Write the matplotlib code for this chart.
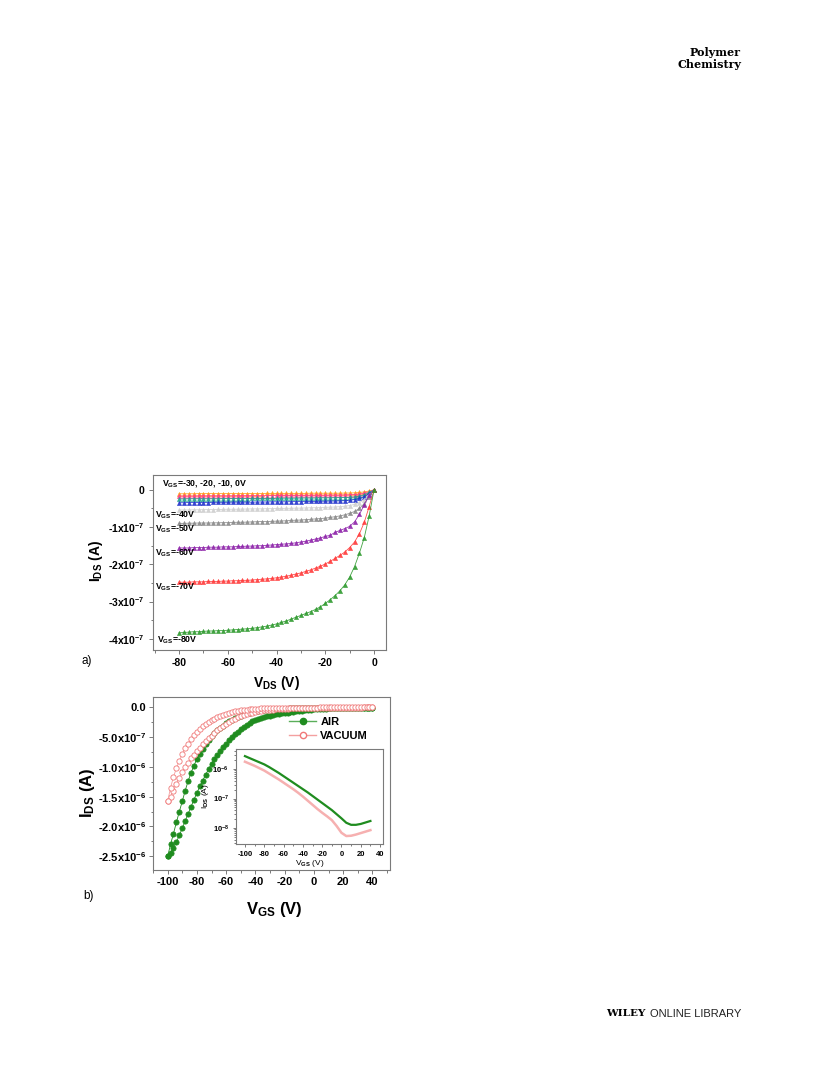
import numpy as np
import matplotlib
matplotlib.use('Agg')
import matplotlib.pyplot as plt
from matplotlib.ticker import MultipleLocator, FixedLocator, LogLocator, NullFormatter

plt.rcParams['font.family'] = ['Liberation Sans', 'DejaVu Sans']
plt.rcParams['mathtext.fontset'] = 'custom'
plt.rcParams['mathtext.rm'] = 'Liberation Sans'
plt.rcParams['mathtext.bf'] = 'Liberation Sans:bold'
plt.rcParams['mathtext.it'] = 'Liberation Sans:italic'
plt.rcParams['axes.unicode_minus'] = False

# ---------------- Panel a data (I_DS in units of 1e-7 A) ----------------
vds = np.arange(0, -81, -2)
i_80 = [0, -0.70, -1.28, -1.70, -2.06, -2.34, -2.55, -2.71, -2.84, -2.95, -3.05, -3.14, -3.21, -3.27, -3.32, -3.37,
        -3.42, -3.47, -3.52, -3.56, -3.60, -3.63, -3.66, -3.68, -3.70, -3.72, -3.73, -3.74, -3.75, -3.76, -3.77,
        -3.78, -3.78, -3.79, -3.79, -3.80, -3.81, -3.81, -3.82, -3.83, -3.84]
i_70 = [0, -0.45, -0.87, -1.18, -1.40, -1.55, -1.67, -1.76, -1.84, -1.92, -1.99, -2.05, -2.10, -2.15, -2.19, -2.23,
        -2.26, -2.29, -2.32, -2.34, -2.36, -2.38, -2.39, -2.40, -2.41, -2.42, -2.43, -2.43, -2.44, -2.44, -2.45,
        -2.45, -2.46, -2.46, -2.46, -2.47, -2.47, -2.47, -2.48, -2.48, -2.48]
i_60 = [0, -0.15, -0.40, -0.66, -0.86, -0.98, -1.04, -1.09, -1.14, -1.22, -1.25, -1.29, -1.32, -1.35, -1.38, -1.40,
        -1.42, -1.44, -1.45, -1.46, -1.47, -1.48, -1.49, -1.50, -1.50, -1.51, -1.51, -1.52, -1.52, -1.53, -1.53,
        -1.53, -1.54, -1.54, -1.54, -1.55, -1.55, -1.55, -1.56, -1.56, -1.56]
i_50 = [0, -0.18, -0.37, -0.50, -0.58, -0.63, -0.67, -0.70, -0.72, -0.74, -0.76, -0.77, -0.78, -0.79, -0.80, -0.81,
        -0.815, -0.82, -0.83, -0.835, -0.84, -0.845, -0.85, -0.85, -0.855, -0.86, -0.865, -0.87, -0.87, -0.875, -0.88,
        -0.88, -0.885, -0.885, -0.89, -0.89, -0.89, -0.895, -0.895, -0.90, -0.90]
i_40 = [0, -0.14, -0.26, -0.34, -0.39, -0.42, -0.44, -0.45, -0.46, -0.465, -0.47, -0.475, -0.48, -0.48, -0.485, -0.49,
        -0.49, -0.495, -0.495, -0.50, -0.50, -0.505, -0.505, -0.51, -0.51, -0.51, -0.515, -0.515, -0.52, -0.52, -0.52,
        -0.525, -0.525, -0.53, -0.53, -0.53, -0.535, -0.535, -0.54, -0.54, -0.54]
i_30 = [0, -0.10, -0.18, -0.23, -0.26, -0.28, -0.29, -0.295, -0.30, -0.30, -0.305, -0.305, -0.31, -0.31, -0.31, -0.315,
        -0.315, -0.315, -0.32, -0.32, -0.32, -0.32, -0.325, -0.325, -0.325, -0.33, -0.33, -0.33, -0.33, -0.33, -0.335,
        -0.335, -0.335, -0.335, -0.34, -0.34, -0.34, -0.34, -0.34, -0.345, -0.345]
i_20 = [0, -0.07, -0.13, -0.17, -0.19, -0.20, -0.205, -0.21, -0.21, -0.215, -0.215, -0.215, -0.22, -0.22, -0.22, -0.22,
        -0.225, -0.225, -0.225, -0.225, -0.23, -0.23, -0.23, -0.23, -0.23, -0.23, -0.235, -0.235, -0.235, -0.235, -0.235,
        -0.235, -0.24, -0.24, -0.24, -0.24, -0.24, -0.24, -0.24, -0.245, -0.245]
i_10 = [0, -0.05, -0.09, -0.11, -0.125, -0.13, -0.135, -0.14, -0.14, -0.14, -0.145, -0.145, -0.145, -0.145, -0.15, -0.15,
        -0.15, -0.15, -0.15, -0.15, -0.15, -0.155, -0.155, -0.155, -0.155, -0.155, -0.155, -0.155, -0.155, -0.16, -0.16,
        -0.16, -0.16, -0.16, -0.16, -0.16, -0.16, -0.165, -0.165, -0.165, -0.165]
i_0 = [0, -0.03, -0.055, -0.07, -0.08, -0.085, -0.085, -0.09, -0.09, -0.09, -0.09, -0.09, -0.09, -0.09, -0.095, -0.095,
       -0.095, -0.095, -0.095, -0.095, -0.095, -0.095, -0.095, -0.10, -0.10, -0.10, -0.10, -0.10, -0.10, -0.10, -0.10,
       -0.10, -0.10, -0.10, -0.10, -0.10, -0.10, -0.105, -0.105, -0.105, -0.105]
curves_a = [i_0, i_10, i_20, i_30, i_40, i_50, i_60, i_70, i_80]
colors_a = ['#ff9a1a', '#ff3c8c', '#1fa08c', '#2233cc', '#cfcfcf', '#8a8a8a', '#8e24aa', '#ff3b3b', '#2e9a2e']
yticks_a = [0, -1, -2, -3, -4]
yticklabels_a = ['0', '-1x10$^{\\mathbf{-7}}$', '-2x10$^{\\mathbf{-7}}$', '-3x10$^{\\mathbf{-7}}$', '-4x10$^{\\mathbf{-7}}$']
xticks_a = [-80, -60, -40, -20, 0]
labels_a = [r'V$_{\mathbf{GS}}$=-30, -20, -10, 0V', r'V$_{\mathbf{GS}}$=-40V', r'V$_{\mathbf{GS}}$=-50V',
            r'V$_{\mathbf{GS}}$=-60V', r'V$_{\mathbf{GS}}$=-70V', r'V$_{\mathbf{GS}}$=-80V']
label_pos_a = [(-87, 0.17), (-89.8, -0.67), (-89.8, -1.07), (-89.8, -1.70), (-89.8, -2.62), (-89.0, -4.03)]

# ---------------- Panel b data (I_DS in units of 1e-6 A) ----------------
vgs = np.arange(-100, 41, 2)
air_fwd = [-2.50, -2.44, -2.36, -2.26, -2.15, -2.03, -1.91, -1.79, -1.67, -1.55,
           -1.44, -1.33, -1.23, -1.13, -1.04, -0.95, -0.87, -0.80, -0.73, -0.67,
           -0.61, -0.555, -0.50, -0.455, -0.41, -0.37, -0.33, -0.295, -0.265, -0.24,
           -0.215, -0.195, -0.178, -0.163, -0.15, -0.14, -0.13, -0.12, -0.112, -0.105,
           -0.098, -0.09, -0.082, -0.075, -0.068, -0.062, -0.056, -0.05, -0.045, -0.041,
           -0.037, -0.033, -0.03, -0.027, -0.024, -0.022, -0.02, -0.018, -0.017, -0.016,
           -0.015, -0.014, -0.013, -0.012, -0.012, -0.011, -0.011, -0.010, -0.010, -0.010, -0.010]
air_rev = [-2.50, -2.30, -2.12, -1.93, -1.75, -1.58, -1.40, -1.24, -1.10, -0.98,
           -0.87, -0.78, -0.70, -0.62, -0.55, -0.49, -0.44, -0.39, -0.35, -0.31,
           -0.27, -0.24, -0.21, -0.18, -0.16, -0.14, -0.12, -0.10, -0.09, -0.08,
           -0.07, -0.062, -0.055, -0.05, -0.045, -0.04, -0.037, -0.034, -0.031, -0.028,
           -0.026, -0.024, -0.022, -0.02, -0.019, -0.018, -0.017, -0.016, -0.015, -0.014,
           -0.013, -0.012, -0.012, -0.011, -0.011, -0.010, -0.010, -0.010, -0.009, -0.009,
           -0.009, -0.009, -0.008, -0.008, -0.008, -0.008, -0.008, -0.008, -0.008, -0.008, -0.008]
vac_fwd = [-1.58, -1.50, -1.40, -1.29, -1.18, -1.08, -1.00, -0.93, -0.86, -0.80,
           -0.74, -0.68, -0.62, -0.57, -0.52, -0.48, -0.43, -0.39, -0.35, -0.31,
           -0.28, -0.25, -0.22, -0.19, -0.17, -0.15, -0.13, -0.115, -0.10, -0.09,
           -0.08, -0.07, -0.062, -0.055, -0.05, -0.045, -0.04, -0.036, -0.032, -0.029,
           -0.026, -0.023, -0.021, -0.019, -0.017, -0.016, -0.015, -0.014, -0.013, -0.012,
           -0.011, -0.010, -0.010, -0.009, -0.009, -0.008, -0.008, -0.008, -0.007, -0.007,
           -0.007, -0.007, -0.006, -0.006, -0.006, -0.006, -0.006, -0.005, -0.005, -0.005, -0.005]
vac_rev = [-1.58, -1.35, -1.17, -1.02, -0.90, -0.79, -0.69, -0.61, -0.53, -0.47,
           -0.41, -0.36, -0.32, -0.28, -0.245, -0.215, -0.19, -0.165, -0.145, -0.125,
           -0.11, -0.095, -0.082, -0.07, -0.06, -0.052, -0.045, -0.04, -0.035, -0.03,
           -0.027, -0.024, -0.021, -0.019, -0.017, -0.015, -0.014, -0.013, -0.012, -0.011,
           -0.010, -0.009, -0.009, -0.008, -0.008, -0.007, -0.007, -0.007, -0.006, -0.006,
           -0.006, -0.006, -0.005, -0.005, -0.005, -0.005, -0.005, -0.005, -0.005, -0.005,
           -0.005, -0.005, -0.005, -0.005, -0.005, -0.005, -0.005, -0.005, -0.005, -0.005, -0.005]
yticks_b = [0, -0.5, -1.0, -1.5, -2.0, -2.5]
yticklabels_b = ['0.0', '-5.0x10$^{\\mathbf{-7}}$', '-1.0x10$^{\\mathbf{-6}}$',
                 '-1.5x10$^{\\mathbf{-6}}$', '-2.0x10$^{\\mathbf{-6}}$', '-2.5x10$^{\\mathbf{-6}}$']
xticks_b = [-100, -80, -60, -40, -20, 0, 20, 40]

# ---------------- Inset data (log10 of |I_DS| in A) ----------------
vgs_in = np.arange(-100, 31, 5)
log_air = [-5.56, -5.63, -5.70, -5.77, -5.84, -5.93, -6.03, -6.13, -6.24, -6.35, -6.46, -6.57, -6.68, -6.79,
           -6.91, -7.03, -7.15, -7.27, -7.39, -7.53, -7.67, -7.82, -7.89, -7.89, -7.86, -7.81, -7.76]
log_vac = [-5.75, -5.82, -5.89, -5.97, -6.05, -6.15, -6.25, -6.35, -6.46, -6.57, -6.68, -6.80, -6.93, -7.07,
           -7.21, -7.35, -7.48, -7.60, -7.73, -7.93, -8.16, -8.27, -8.26, -8.22, -8.17, -8.12, -8.07]
xticks_in = [-100, -80, -60, -40, -20, 0, 20, 40]

GREEN = '#1f8c1f'
PINK = '#f07878'
SPINE = '#7a7a7a'


def style_axes(ax, size, pad=3.0):
    for s in ax.spines.values():
        s.set_color(SPINE)
        s.set_linewidth(0.8)
    ax.tick_params(which='both', direction='out', color=SPINE, labelsize=size, width=0.7, pad=pad)
    ax.tick_params(which='major', length=3)
    ax.tick_params(which='minor', length=1.8)
    for t in ax.get_xticklabels() + ax.get_yticklabels():
        t.set_fontweight('bold')


fig = plt.figure(figsize=(8.16, 10.79), dpi=100)

# ---------------- Panel a ----------------
axa = fig.add_axes([0.1875, 0.3976, 0.2855, 0.1622])
for vals, col in zip(curves_a, colors_a):
    axa.plot(vds, vals, color=col, lw=0.6, marker='^', ms=3.0, mfc=col, mec=col, mew=0.4, alpha=0.9)
axa.set_xlim(-90.7, 4.9)
axa.set_ylim(-4.3, 0.4)
axa.set_yticks(yticks_a)
axa.set_yticklabels(yticklabels_a)
axa.yaxis.set_minor_locator(MultipleLocator(0.5))
axa.set_xticks(xticks_a)
axa.xaxis.set_minor_locator(MultipleLocator(10))
style_axes(axa, 7.5)
axa.set_xlabel(r'V$_{\mathbf{DS}}$ (V)', fontsize=10, fontweight='bold')
axa.xaxis.set_label_coords(0.53, -0.14)
axa.set_ylabel(r'I$_{\mathbf{DS}}$ (A)', fontsize=10, fontweight='bold')
axa.yaxis.set_label_coords(-0.205, 0.51)
for txt, (x, y) in zip(labels_a, label_pos_a):
    axa.text(x, y, txt, fontsize=6.3, fontweight='bold', ha='left', va='center')
fig.text(82 / 816, 1 - 661 / 1079, 'a)', fontsize=8.5, ha='left', va='center')

# ---------------- Panel b ----------------
axb = fig.add_axes([0.1875, 0.1937, 0.2904, 0.1603])
axb.plot(vgs, air_fwd, color=GREEN, lw=0.6, marker='o', ms=3.8, mfc=GREEN, mec=GREEN, mew=0.5)
axb.plot(vgs, air_rev, color=GREEN, lw=0.6, marker='o', ms=3.8, mfc=GREEN, mec=GREEN, mew=0.5)
axb.plot(vgs, vac_fwd, color='#f4a0a0', lw=0.6, marker='o', ms=3.8, mfc='white', mec=PINK, mew=0.6)
axb.plot(vgs, vac_rev, color='#f4a0a0', lw=0.6, marker='o', ms=3.8, mfc='white', mec=PINK, mew=0.6)
axb.set_xlim(-110, 52)
axb.set_ylim(-2.73, 0.17)
axb.set_yticks(yticks_b)
axb.set_yticklabels(yticklabels_b)
axb.yaxis.set_minor_locator(MultipleLocator(0.25))
axb.set_xticks(xticks_b)
axb.xaxis.set_minor_locator(MultipleLocator(10))
style_axes(axb, 8, pad=2.0)
axb.set_xlabel(r'V$_{\mathbf{GS}}$ (V)', fontsize=12, fontweight='bold')
axb.xaxis.set_label_coords(0.51, -0.175)
axb.set_ylabel(r'I$_{\mathbf{DS}}$ (A)', fontsize=12, fontweight='bold')
axb.yaxis.set_label_coords(-0.235, 0.445)

h1, = axb.plot([], [], color='#5aae5a', lw=1.0, marker='o', ms=4.5, mfc=GREEN, mec=GREEN)
h2, = axb.plot([], [], color='#f4a0a0', lw=1.0, marker='o', ms=4.5, mfc='white', mec=PINK)
leg = axb.legend([h1, h2], ['AIR', 'VACUUM'], loc='upper left', bbox_to_anchor=(0.575, 0.885),
                 frameon=False, fontsize=8, handlelength=2.4, handletextpad=0.4, labelspacing=0.35,
                 borderpad=0, borderaxespad=0)
for t in leg.get_texts():
    t.set_fontweight('bold')
fig.text(83 / 816, 1 - 896 / 1079, 'b)', fontsize=8.5, ha='left', va='center')

# ---------------- Inset ----------------
axi = fig.add_axes([0.2892, 0.2178, 0.1801, 0.088])
axi.semilogy(vgs_in, 10.0 ** np.array(log_air), color=GREEN, lw=1.6)
axi.semilogy(vgs_in, 10.0 ** np.array(log_vac), color='#f6b0b0', lw=1.8)
axi.set_xlim(-109.3, 43)
axi.set_ylim(10 ** -8.54, 10 ** -5.32)
axi.set_xticks(xticks_in)
axi.xaxis.set_minor_locator(MultipleLocator(10))
axi.yaxis.set_major_locator(FixedLocator([1e-8, 1e-7, 1e-6]))
axi.yaxis.set_minor_locator(LogLocator(base=10, subs=np.arange(2, 10)))
axi.yaxis.set_minor_formatter(NullFormatter())
style_axes(axi, 5.5)
axi.tick_params(which='major', length=2)
axi.tick_params(which='minor', length=1.2)
axi.set_xlabel(r'V$_{\mathbf{GS}}$ (V)', fontsize=6)
axi.xaxis.set_label_coords(0.5, -0.15)
axi.set_ylabel(r'I$_{\mathbf{DS}}$ (A)', fontsize=6)
axi.yaxis.set_label_coords(-0.17, 0.5)

# ---------------- Page decorations ----------------
fig.text(741 / 816, 1 - 52 / 1079, 'Polymer', fontsize=8, fontweight='bold', family='DejaVu Serif',
         ha='right', va='center')
fig.text(741 / 816, 1 - 64 / 1079, 'Chemistry', fontsize=8, fontweight='bold', family='DejaVu Serif',
         ha='right', va='center')
fig.text(606 / 816, 1 - 1014 / 1079, 'WILEY', fontsize=7.5, fontweight='bold', family='DejaVu Serif',
         ha='left', va='center')
fig.text(741 / 816, 1 - 1014 / 1079, 'ONLINE LIBRARY', fontsize=8, ha='right', va='center', color='#222222')

fig.savefig('out.png', dpi=100)
